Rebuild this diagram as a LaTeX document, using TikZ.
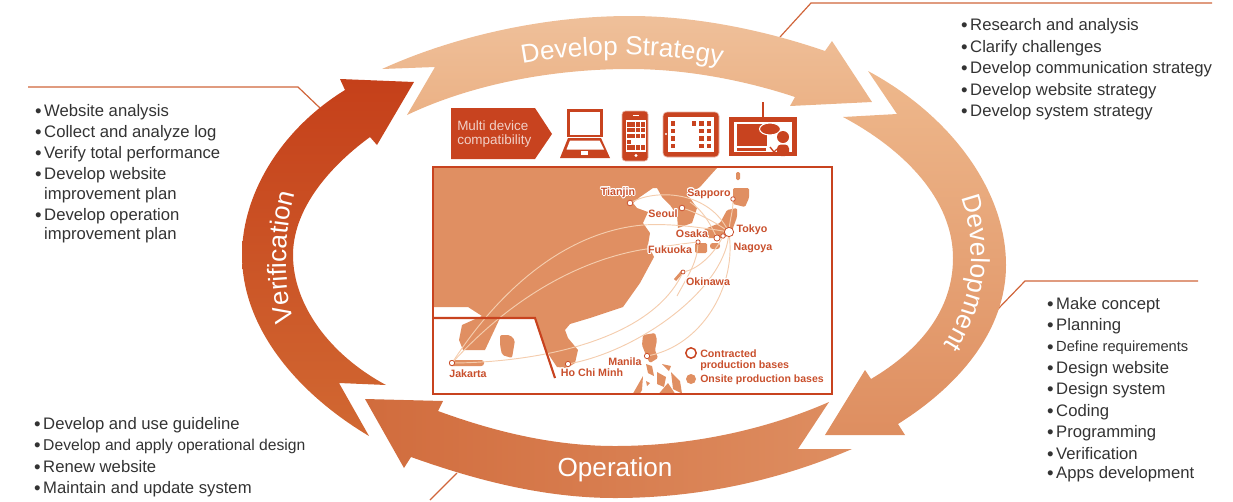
\documentclass[tikz,border=0pt]{standalone}
\usepackage{fontspec}
\setmainfont{Liberation Sans}
\usepackage{contour}
\usepackage{tikz}
\usetikzlibrary{positioning}
\usetikzlibrary{calc}
\usetikzlibrary{decorations.text}
\definecolor{rust}{HTML}{C8431F}
\definecolor{land}{HTML}{E08F62}
\definecolor{leader}{HTML}{D0653A}
\definecolor{route}{HTML}{F4CDAE}
\definecolor{cityred}{HTML}{C9502D}
\definecolor{listgray}{HTML}{333333}
\definecolor{strategytop}{HTML}{EFC09A}
\definecolor{strategybot}{HTML}{EBB185}
\definecolor{developtop}{HTML}{EEB88C}
\definecolor{developbot}{HTML}{DE8E60}
\definecolor{operateright}{HTML}{DE8E61}
\definecolor{operateleft}{HTML}{D16C3D}
\definecolor{verifybot}{HTML}{D16832}
\definecolor{verifytop}{HTML}{C5401A}
\contourlength{0.7pt}
\tikzset{
  listitem/.style={anchor=west,inner sep=0pt,yshift=-0.75pt,text=listgray,font=\fontsize{12.5}{12.5}\selectfont},
  city/.style={circle,draw=cityred,fill=white,line width=0.6pt,inner sep=0pt,minimum size=#1},
  cityname/.style={inner sep=0pt,text=cityred,font=\fontsize{8}{8}\selectfont\bfseries},
  routeline/.style={draw=route,line width=0.7pt},
  leaderline/.style={draw=leader,line width=0.9pt},
  bigword/.style={inner sep=0pt,text=white,font=\fontsize{19.6}{19.6}\selectfont}
}
\newcommand{\bul}{\makebox[5.6pt][l]{\hspace*{-1.3pt}\raisebox{-1.2pt}{\fontsize{14}{14}\selectfont\textbullet}}}
\newcommand{\nobul}{\hspace*{5.6pt}}
\begin{document}
\begin{tikzpicture}[x=0.75pt,y=-0.75pt]
\useasboundingbox (0,0) rectangle (1233,501);

%leader lines
\coordinate (lsa) at (780,37); \coordinate (lsb) at (811,3); \coordinate (lsc) at (1212,3);
\coordinate (lva) at (320,108); \coordinate (lvb) at (298,87); \coordinate (lvc) at (28,87);
\coordinate (lda) at (997,310); \coordinate (ldb) at (1025,281); \coordinate (ldc) at (1198,281);
\coordinate (loa) at (457,473); \coordinate (lob) at (430,500);
\draw[leaderline] (lsa) -- (lsb) -- (lsc);
\draw[leaderline] (lva) -- (lvb) -- (lvc);
\draw[leaderline] (lda) -- (ldb) -- (ldc);
\draw[leaderline] (loa) -- (lob);

%big arrows
\shade[top color=strategytop,bottom color=strategybot]
  (382,69) -- (435,67) -- (407,115)
  .. controls (470,85) and (550,69) .. (630,69)
  .. controls (690,69) and (750,82) .. (795,97)
  -- (790,106) -- (872,102) -- (832,41) -- (825,51)
  .. controls (770,32) and (700,16) .. (630,16)
  .. controls (540,16) and (450,38) .. (382,69) -- cycle;

\shade[top color=developtop,bottom color=developbot]
  (868,71)
  .. controls (950,115) and (1006,190) .. (1006,265)
  .. controls (1006,330) and (960,385) .. (898,424)
  -- (905,435) -- (825,435) -- (865,370) -- (871,379)
  .. controls (920,350) and (953,310) .. (953,258)
  .. controls (953,200) and (905,150) .. (843,117)
  -- (897,114) -- cycle;

\shade[right color=operateright,left color=operateleft]
  (829,402) -- (798,449) -- (852,449)
  .. controls (780,480) and (700,498) .. (615,498)
  .. controls (540,498) and (470,478) .. (411,457)
  -- (404,468) -- (365,399) -- (443,401) -- (438,411)
  .. controls (490,430) and (550,446) .. (615,446)
  .. controls (690,446) and (765,430) .. (829,402) -- cycle;

\shade[bottom color=verifybot,top color=verifytop]
  (369,436) -- (339,383) -- (386,385)
  .. controls (330,355) and (293,305) .. (293,255)
  .. controls (293,212) and (325,170) .. (370,137)
  -- (377,145) -- (414,82) -- (340,79) -- (345,90)
  .. controls (280,130) and (242,195) .. (242,255)
  .. controls (242,330) and (300,395) .. (369,436) -- cycle;

%words on the arrows
\path[decorate,decoration={text along path,text align={center},
  text={|\fontsize{19.6}{19.6}\selectfont\color{white}|Develop Strategy}}]
  (497,69) .. controls (570,50) and (670,50) .. (747,71);
\path[decorate,decoration={text along path,text align={center},
  text={|\fontsize{19.6}{19.6}\selectfont\color{white}|Development}}]
  (955,183) .. controls (980,240) and (978,300) .. (935,358);
\path[decorate,decoration={text along path,text align={center},
  text={|\fontsize{19.6}{19.6}\selectfont\color{white}|Verification}}]
  (298,337) .. controls (282,290) and (282,225) .. (300,178);
\node[bigword] (operation) at (615,470) {Operation};

%devices
\fill[rust] (451,108) -- (535,108) -- (552,134) -- (535,159) -- (451,159) -- cycle;
\node[anchor=west,inner sep=0pt,align=left,text=white!75!rust,font=\fontsize{10.1}{10.6}\selectfont] (multi) at (457,134) {Multi device\\compatibility};

%laptop
\draw[rust,line width=1.6pt] (568.5,110.5) rectangle (601.5,136);
\fill[rust] (568,138) -- (601,138) -- (610,158) -- (560,158) -- cycle;
\fill[white] (570,140.5) -- (599.5,140.5) -- (604,149.5) -- (566.5,149.5) -- cycle;
\fill[white] (581,151) rectangle (588,155);

%phone
\fill[rust,rounded corners=2.5pt] (622,111) rectangle (648,161);
\draw[white!60!rust,rounded corners=2.5pt,line width=0.5pt] (622,111) rectangle (648,161);
\fill[white] (626,120) rectangle (646,151.5);
\foreach \x in {0,1,2,3}
\foreach \y in {122,127.5,133.5,145}
  \fill[rust] (626.5+\x*4.8,\y) rectangle ++(4,4.5);
\fill[rust] (626.5,139.5) rectangle ++(4,4.5);
\fill[white] (636,155.5) circle (1.6);
\fill[white] (633,115) rectangle (639,116);

%tablet
\fill[rust,rounded corners=3pt] (663,112) rectangle (719,157);
\draw[white!60!rust,rounded corners=3pt,line width=0.5pt] (663,112) rectangle (719,157);
\fill[white] (668,117) rectangle (714,152);
\foreach \y in {121,128.5,136,143.5}
{
  \fill[rust] (670.5,\y) rectangle ++(4.5,4.5);
  \fill[rust] (699,\y) rectangle ++(4.5,4.5);
  \fill[rust] (706.5,\y) rectangle ++(4.5,4.5);
}
\fill[rust] (691.5,121) rectangle ++(4.5,4.5);
\fill[white] (666,134) circle (1.2);

%screen with person
\draw[rust,line width=1.1pt] (763,102) -- (763,118);
\fill[rust] (729,117) rectangle (797,156);
\fill[white] (734,122) rectangle (792,152);
\fill[rust] (737,124) rectangle (767,146);
\fill[rust] (737,147.5) rectangle (766,150.5);
\draw[white,fill=rust,line width=0.8pt] (770,129) ellipse (10.5 and 6);
\fill[rust] (783,137) circle (6);
\fill[rust,rounded corners=3pt] (777,144.5) rectangle (789,156);
\draw[rust,line width=1pt] (770,147) -- (774,152) -- (777,149);

%map
\fill[land] (434,168) -- (717,168) -- (708,178) -- (700,187) -- (687,195) -- (690,198) -- (697,208)
  -- (692,223) -- (678,228) -- (677,215) -- (670,205) -- (662,197) -- (657,188) -- (653,188)
  -- (640,197) -- (633,203) -- (637,208) -- (648,212) -- (643,223) -- (650,233) -- (648,245)
  -- (654,257) -- (640,283) -- (623,307) -- (590,318) -- (570,324) -- (565,330) -- (568,338)
  -- (578,350) -- (575,363) -- (567,368) -- (557,367) -- (547,352) -- (535,318) -- (500,318)
  -- (485,350) -- (463,350) -- (459,340) -- (462,325) -- (482,316) -- (468,307) -- (434,307) -- cycle;
\fill[land,rounded corners=1.5pt] (500,335) -- (510,335) -- (515,340) -- (512,358) -- (502,355) -- (500,345) -- cycle;
\fill[land,rounded corners=2pt] (449,360) rectangle (484,366);
%japan
\fill[land,rounded corners=1pt] (733,188) -- (749,188) -- (749,198) -- (745,207) -- (733,204) -- cycle;
\fill[land,rounded corners=1pt] (736,172) rectangle (740,180);
\fill[land,rounded corners=1pt] (727,210) -- (737,208) -- (737,217) -- (733,228) -- (732,235) -- (720,238)
  -- (707,238) -- (700,233) -- (707,228) -- (720,223) -- cycle;
\fill[land,rounded corners=2pt] (710,243) rectangle (720,249);
\fill[land,rounded corners=1pt] (695,243) rectangle (707,253);
\draw[land,line width=2.2pt] (675,280) -- (682,272);
%philippines
\fill[land,rounded corners=1pt] (643,335) -- (655,333) -- (657,340) -- (655,350) -- (658,358) -- (650,363)
  -- (647,358) -- (642,345) -- cycle;
\fill[land] (646,364) -- (652,366) -- (654,376) -- (648,373) -- cycle;
\fill[land] (657,372) -- (666,377) -- (664,387) -- (657,384) -- cycle;
\fill[land] (671,372) -- (680,381) -- (682,393.5) -- (673,389) -- cycle;
\fill[land] (659,393.5) -- (668,383) -- (675,393.5) -- cycle;
\fill[land] (633,393.5) -- (643,376) -- (642,390) -- (640,393.5) -- cycle;
\fill[land] (662,364) -- (671,366) -- (669,371) -- cycle;
\fill[land] (646,381) -- (650,383) -- (647,386) -- cycle;

%bases
\node[city=7pt] (tokyo) at (729,232) {};
\node[city=3.4pt] (nagoya) at (723,236) {};
\node[city=4.6pt] (osaka) at (717,238) {};
\node[city=3.2pt] (fukuoka) at (698,242) {};
\node[city=3pt] (okinawa) at (683,272) {};
\node[city=4.2pt] (tianjin) at (630,203) {};
\node[city=4.2pt] (seoul) at (682,208) {};
\node[city=3.4pt] (sapporo) at (733,199) {};
\node[city=4pt] (jakarta) at (452,363) {};
\node[city=4pt] (hochiminh) at (568,364) {};
\node[city=4pt] (manila) at (647,356) {};

%routes
\draw[routeline] (jakarta) .. controls (500,290) and (565,232) .. (643,225) .. controls (670,223) and (705,228) .. (tokyo);
\draw[routeline] (jakarta) .. controls (510,300) and (575,262) .. (640,250) .. controls (660,247) and (680,244) .. (fukuoka);
\draw[routeline] (jakarta) .. controls (540,362) and (650,340) .. (okinawa);
\draw[routeline] (hochiminh) .. controls (640,350) and (722,290) .. (tokyo);
\draw[routeline] (manila) .. controls (700,345) and (735,290) .. (tokyo);
\draw[routeline] (okinawa) .. controls (700,268) and (715,252) .. (nagoya);
\coordinate (okisouth) at (677,296);
\coordinate (seoulnorth) at (690,202);
\draw[routeline] (okisouth) .. controls (690,272) and (697,262) .. (fukuoka);
\draw[routeline] (tianjin) .. controls (655,190) and (705,190) .. (tokyo);
\draw[routeline] (seoul) .. controls (695,212) and (715,222) .. (tokyo);
\draw[routeline] (sapporo) .. controls (733,210) and (730,220) .. (tokyo);
\draw[routeline] (seoulnorth) .. controls (705,212) and (712,228) .. (osaka);

%frame and division line
\draw[rust,line width=1.1pt] (433,167) rectangle (832,394);
\draw[rust,line width=1.6pt] (433,318) -- (535,318) -- (555,378);

%city names
\node[cityname] (ntianjin) at (618,193) {\contour{white}{Tianjin}};
\node[cityname] (nseoul) at (663,214) {\contour{white}{Seoul}};
\node[cityname] (nsapporo) at (709,194) {\contour{white}{Sapporo}};
\node[cityname] (ntokyo) at (752,230) {\contour{white}{Tokyo}};
\node[cityname] (nosaka) at (692,234) {\contour{white}{Osaka}};
\node[cityname] (nnagoya) at (753,248) {\contour{white}{Nagoya}};
\node[cityname] (nfukuoka) at (670,250) {\contour{white}{Fukuoka}};
\node[cityname] (nokinawa) at (708,282) {\contour{white}{Okinawa}};
\node[cityname] (njakarta) at (468,374) {\contour{white}{Jakarta}};
\node[cityname] (nhochiminh) at (592,373) {\contour{white}{Ho Chi Minh}};
\node[cityname] (nmanila) at (625,362) {\contour{white}{Manila}};

%legend
\draw[rust,fill=white,line width=1.1pt] (691,353) circle (5.2);
\fill[land] (691,379) circle (5);
\node[cityname,anchor=west,align=left,font=\fontsize{8}{8.6}\selectfont\bfseries] (contracted) at (700,360.5) {Contracted\\production bases};
\node[cityname,anchor=west,font=\fontsize{7.9}{8}\selectfont\bfseries] (onsite) at (700,380) {Onsite production bases};

%lists
\foreach \y/\t in {25/Research and analysis,47/Clarify challenges,68/Develop communication strategy,90/Develop website strategy,111/Develop system strategy}
  \node[listitem] (strategy\y) at (962.5,\y) {\bul\t};
\foreach \y/\t in {111/Website analysis,132/Collect and analyze log,153/Verify total performance,174/Develop website,215/Develop operation}
  \node[listitem] (verify\y) at (36.5,\y) {\bul\t};
\foreach \y/\t in {194/improvement plan,234/improvement plan}
  \node[listitem] (verify\y) at (36.5,\y) {\nobul\t};
\foreach \y/\t in {304/Make concept,325/Planning,368/Design website,389/Design system,411/Coding,432/Programming,453/Verification,473/Apps development}
  \node[listitem] (develop\y) at (1048.5,\y) {\bul\t};
\node[listitem,font=\fontsize{11}{12}\selectfont] (develop347) at (1048.5,347) {\bul Define requirements};
\foreach \y/\t in {424/Develop and use guideline,466/Renew website,488/Maintain and update system}
  \node[listitem] (operate\y) at (35.5,\y) {\bul\t};
\node[listitem,font=\fontsize{11.75}{12}\selectfont] (operate445) at (35.5,445) {\bul Develop and apply operational design};

\end{tikzpicture}
\end{document}
